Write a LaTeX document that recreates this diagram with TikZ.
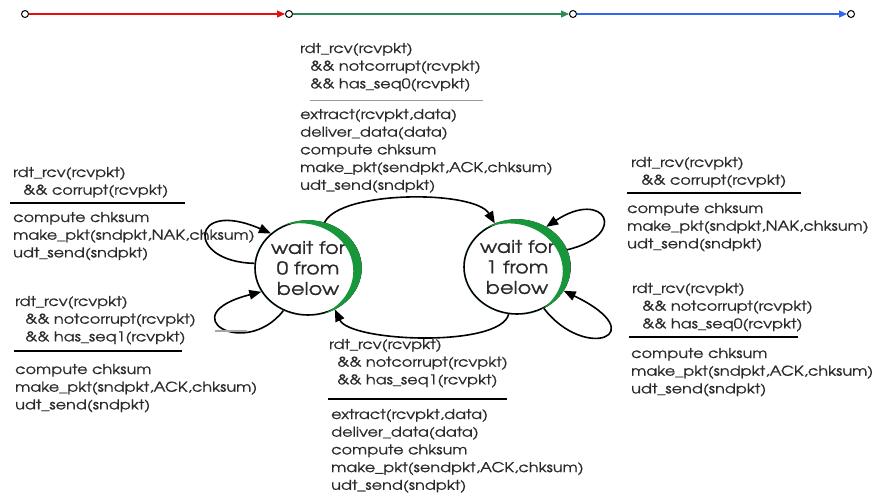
\documentclass[tikz,border=0pt]{standalone}
\usepackage{fontspec}
\IfFontExistsTF{TeX Gyre Adventor}{\setmainfont{TeX Gyre Adventor}[FakeStretch=1.19,FakeBold=0.8]}{\setmainfont{Poppins}}
\usetikzlibrary{arrows.meta,shapes.geometric}
\definecolor{txtc}{HTML}{2A2A2A}
\definecolor{fsmgreen}{HTML}{18963A}
\definecolor{lred}{HTML}{E01010}
\definecolor{lgreen}{HTML}{2E8B57}
\definecolor{lblue}{HTML}{3366EE}
\tikzset{
  txt/.style={anchor=base west, inner sep=0pt, text=txtc, font=\fontsize{13.5}{17.7}\selectfont},
  state/.style={ellipse, draw, line width=1.6pt, fill=white, minimum width=106pt, minimum height=94pt,
     inner sep=0pt, align=center, text=txtc, font=\fontsize{17.5}{20.5}\selectfont},
  arr/.style={-{Triangle[length=12pt,width=9.5pt]}, line width=1.6pt, black},
  topdot/.style={circle, draw, line width=1pt, fill=white, inner sep=0pt, minimum size=7pt},
  topline/.style={line width=1.2pt, -{Triangle[length=8pt,width=7pt]}},
  sep/.style={line width=2.2pt, black},
}
\begin{document}
\begin{tikzpicture}[x=1pt,y=-1pt]
\useasboundingbox (0,0) rectangle (880,499);
\fill[white] (0,0) rectangle (880,499);

% top timeline
\node[topdot] (p1) at (25,14) {};
\node[topdot] (p2) at (289,14) {};
\node[topdot] (p3) at (573,14) {};
\node[topdot] (p4) at (851,14) {};
\draw[topline, lred] (p1) -- (p2);
\draw[topline, lgreen] (p2) -- (p3);
\draw[topline, lblue] (p3) -- (p4);

% states
\node[state] (s0) at (308,268) {wait for\\0 from\\below};
\node[state] (s1) at (517,267) {wait for\\1 from\\below};
\begin{scope}
  \clip (308,268) ellipse [x radius=53.8, y radius=47.8];
  \fill[fsmgreen, even odd rule] (308,268) ellipse [x radius=53.8, y radius=47.8]
     (299.5,271) ellipse [x radius=53.8, y radius=47.8];
\end{scope}
\begin{scope}
  \clip (517,267) ellipse [x radius=53.8, y radius=47.8];
  \fill[fsmgreen, even odd rule] (517,267) ellipse [x radius=53.8, y radius=47.8]
     (509,271.2) ellipse [x radius=53.8, y radius=47.8];
\end{scope}

% transitions
\draw[arr] (s0.70) .. controls (340,190) and (475,190) .. (s1.117);
\draw[arr] (s1.260) .. controls (500,348) and (350,342) .. (s0.303);
\draw[arr] (s0.175) .. controls (185,262) and (190,198) .. (s0.137);
\draw[arr] (s0.240) .. controls (245,360) and (170,315) .. (s0.207);
\draw[arr] (s1.19) .. controls (630,235) and (605,188) .. (s1.54);
\draw[arr] (s1.303) .. controls (585,362) and (655,335) .. (s1.333);
\draw[line width=1.5pt, black!35] (215,331) -- (247,331);

% top centre label
\foreach \t [count=\i from 0] in {{rdt\_rcv(rcvpkt)},{\hspace*{10pt}\&\& notcorrupt(rcvpkt)},{\hspace*{10pt}\&\& has\_seq0(rcvpkt)}}
  \node[txt] (tcc\i) at (300,53+17.7*\i) {\t};
\draw[line width=0.8pt, black!40] (310,100) -- (483,100);
\foreach \t [count=\i from 0] in {{extract(rcvpkt,data)},{deliver\_data(data)},{compute chksum},{make\_pkt(sendpkt,ACK,chksum)},{udt\_send(sndpkt)}}
  \node[txt] (tca\i) at (300,119+17.7*\i) {\t};

% left upper label
\foreach \t [count=\i from 0] in {{rdt\_rcv(rcvpkt)},{\hspace*{10pt}\&\& corrupt(rcvpkt)}}
  \node[txt] (luc\i) at (13,177+17.7*\i) {\t};
\draw[sep] (10,203) -- (185,203);
\foreach \t [count=\i from 0] in {{compute chksum},{make\_pkt(sndpkt,NAK,chksum)},{udt\_send(sndpkt)}}
  \node[txt] (lua\i) at (13,222+17.7*\i) {\t};

% left lower label
\foreach \t [count=\i from 0] in {{rdt\_rcv(rcvpkt)},{\hspace*{10pt}\&\& notcorrupt(rcvpkt)},{\hspace*{10pt}\&\& has\_seq1(rcvpkt)}}
  \node[txt] (llc\i) at (15,306+17.7*\i) {\t};
\draw[sep] (14,351) -- (182,351);
\foreach \t [count=\i from 0] in {{compute chksum},{make\_pkt(sndpkt,ACK,chksum)},{udt\_send(sndpkt)}}
  \node[txt] (lla\i) at (15,374+17.7*\i) {\t};

% right upper label
\foreach \t [count=\i from 0] in {{rdt\_rcv(rcvpkt)},{\hspace*{10pt}\&\& corrupt(rcvpkt)}}
  \node[txt] (ruc\i) at (631,167+17.7*\i) {\t};
\draw[sep] (627,193) -- (801,193);
\foreach \t [count=\i from 0] in {{compute chksum},{make\_pkt(sndpkt,NAK,chksum)},{udt\_send(sndpkt)}}
  \node[txt] (rua\i) at (627,213+17.7*\i) {\t};

% right lower label
\foreach \t [count=\i from 0] in {{rdt\_rcv(rcvpkt)},{\hspace*{10pt}\&\& notcorrupt(rcvpkt)},{\hspace*{10pt}\&\& has\_seq0(rcvpkt)}}
  \node[txt] (rlc\i) at (632,293+17.7*\i) {\t};
\draw[sep] (629,337) -- (798,337);
\foreach \t [count=\i from 0] in {{compute chksum},{make\_pkt(sndpkt,ACK,chksum)},{udt\_send(sndpkt)}}
  \node[txt] (rla\i) at (631,358+17.7*\i) {\t};

% bottom label
\foreach \t [count=\i from 0] in {{rdt\_rcv(rcvpkt)},{\hspace*{8pt}\&\& notcorrupt(rcvpkt)},{\hspace*{8pt}\&\& has\_seq1(rcvpkt)}}
  \node[txt] (bcc\i) at (329,349+17.7*\i) {\t};
\draw[sep] (328,399) -- (507,399);
\foreach \t [count=\i from 0] in {{extract(rcvpkt,data)},{deliver\_data(data)},{compute chksum},{make\_pkt(sendpkt,ACK,chksum)},{udt\_send(sndpkt)}}
  \node[txt] (bca\i) at (331,419+17.7*\i) {\t};
\end{tikzpicture}
\end{document}
